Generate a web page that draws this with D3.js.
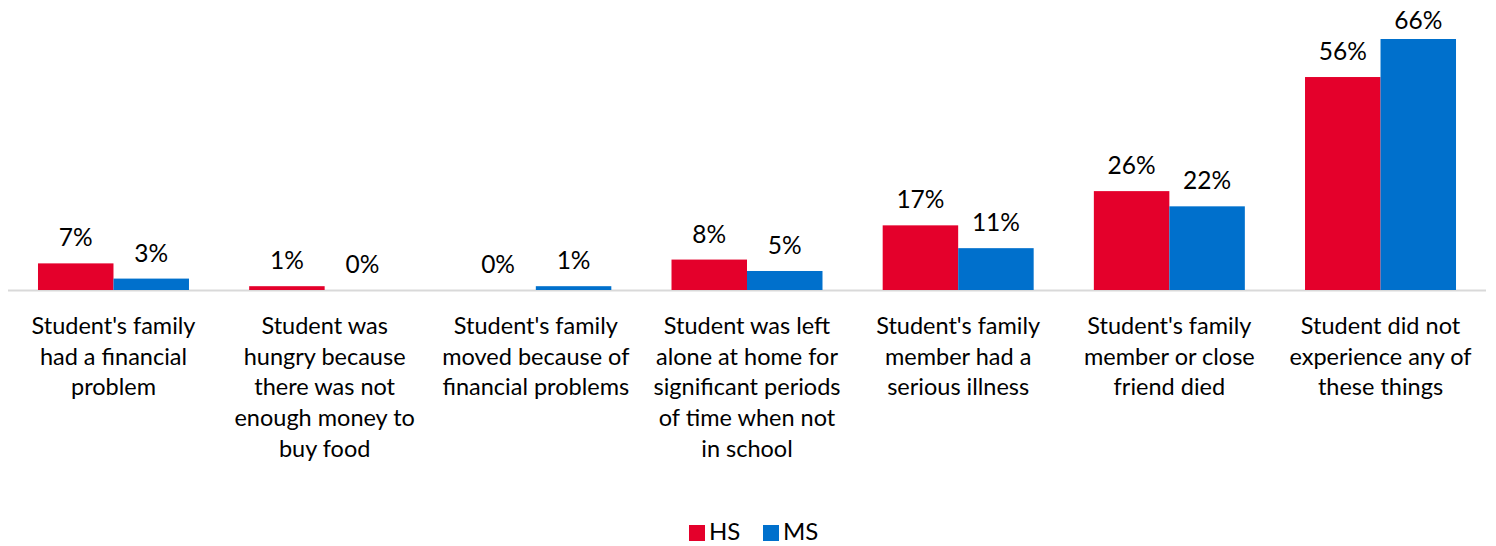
<!DOCTYPE html>
<html>
<head>
<meta charset="utf-8">
<script src="https://cdn.jsdelivr.net/npm/d3@7"></script>
<style>
  html, body { margin: 0; padding: 0; background: #fff; }
  svg { display: block; }
  text { font-family: "Lato", "Open Sans", sans-serif; fill: #000; }
</style>
</head>
<body>
<svg id="chart" width="1496" height="546"></svg>
<script>
// Experiences reported, by school level (percent of students)
const categories = [
  ["Student's family", "had a financial", "problem"],
  ["Student was", "hungry because", "there was not", "enough money to", "buy food"],
  ["Student's family", "moved because of", "financial problems"],
  ["Student was left", "alone at home for", "significant periods", "of time when not", "in school"],
  ["Student's family", "member had a", "serious illness"],
  ["Student's family", "member or close", "friend died"],
  ["Student did not", "experience any of", "these things"]
];
const seriesNames = ["HS", "MS"];
const hsValues = [7, 1, 0, 8, 17, 26, 56];
const msValues = [3, 0, 1, 5, 11, 22, 66];
const colors = { HS: "#E4002B", MS: "#0070CC" };

const svg = d3.select("#chart");
const baseY = 290;

const keys = categories.map((c, i) => i);
const x = d3.scaleBand().domain(keys).range([8, 1486])
  .paddingInner(0.285).paddingOuter(0.142);
const xSub = d3.scaleBand().domain(seriesNames).range([0, x.bandwidth()]).padding(0);
const y = d3.scaleLinear().domain([0, 66]).range([baseY, 39]);

const rows = keys.map(i => ({ i, HS: hsValues[i], MS: msValues[i] }));

// axis baseline
svg.append("line")
  .attr("x1", 8).attr("x2", 1486)
  .attr("y1", baseY + 0.5).attr("y2", baseY + 0.5)
  .attr("stroke", "#D9D9D9").attr("stroke-width", 2);

const groups = svg.append("g").selectAll("g").data(rows).join("g")
  .attr("transform", d => `translate(${x(d.i)},0)`);

groups.selectAll("rect")
  .data(d => seriesNames.map(k => ({ k, v: d[k] })))
  .join("rect")
  .attr("x", d => xSub(d.k))
  .attr("width", xSub.bandwidth())
  .attr("y", d => y(d.v))
  .attr("height", d => baseY - y(d.v))
  .attr("fill", d => colors[d.k]);

// value labels above each bar
groups.selectAll("text.val")
  .data(d => seriesNames.map(k => ({ k, v: d[k] })))
  .join("text")
  .attr("class", "val")
  .attr("x", d => xSub(d.k) + xSub.bandwidth() / 2)
  .attr("y", d => Math.max(y(d.v) - 17, 29))
  .attr("text-anchor", "middle")
  .attr("font-size", 24.5)
  .text(d => d.v + "%");

// category labels
const catG = svg.append("g");
categories.forEach((lines, i) => {
  const t = catG.append("text")
    .attr("x", x(i) + x.bandwidth() / 2)
    .attr("y", 334)
    .attr("text-anchor", "middle")
    .attr("font-size", 23.5);
  lines.forEach((ln, j) => {
    t.append("tspan")
      .attr("x", x(i) + x.bandwidth() / 2)
      .attr("dy", j === 0 ? 0 : 30.7)
      .text(ln);
  });
});

// legend
const legend = svg.append("g");
const legendItems = [
  { k: "HS", x: 689 },
  { k: "MS", x: 763 }
];
legendItems.forEach(it => {
  legend.append("rect")
    .attr("x", it.x).attr("y", 525).attr("width", 16).attr("height", 16)
    .attr("fill", colors[it.k]);
  legend.append("text")
    .attr("x", it.x + 20).attr("y", 540)
    .attr("font-size", 24)
    .text(it.k);
});
</script>
</body>
</html>
